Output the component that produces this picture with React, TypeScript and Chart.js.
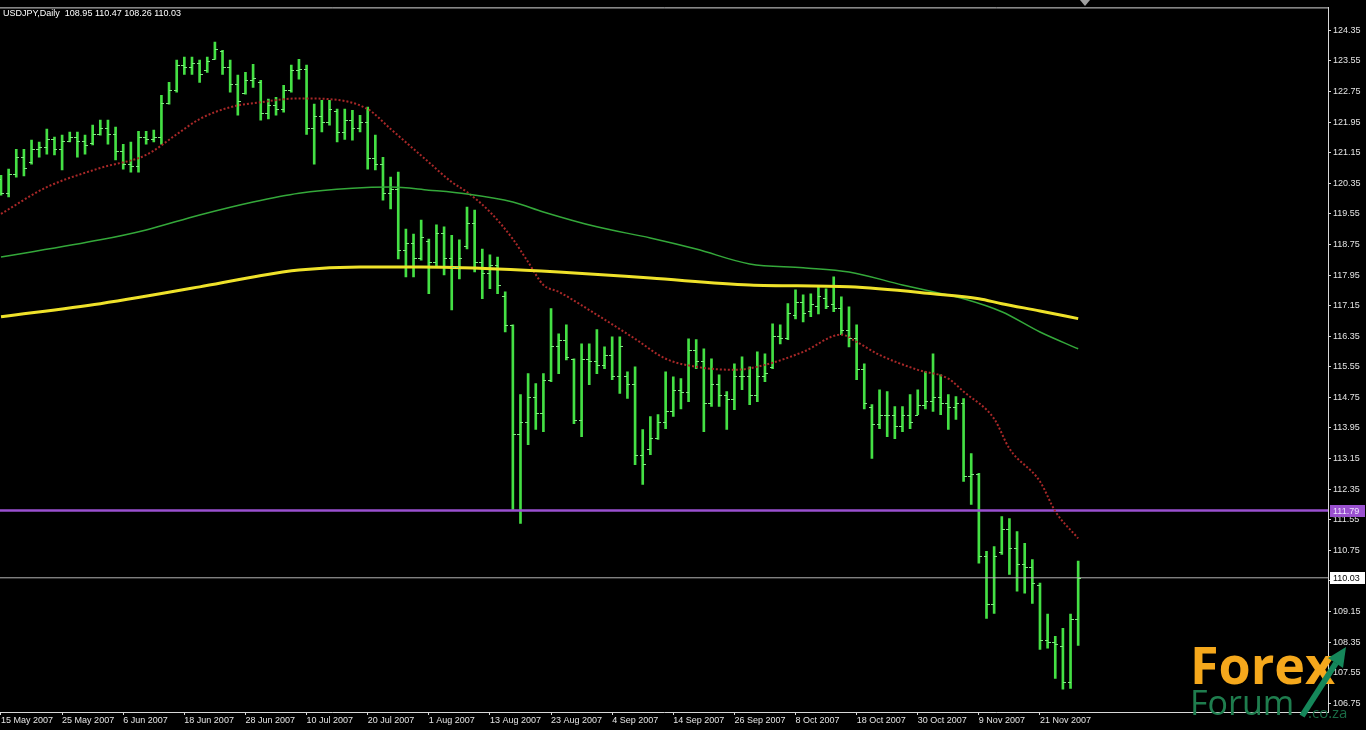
import React, { useEffect, useRef } from "react";
import { Chart, registerables } from "chart.js";

Chart.register(...registerables);

const titleText = "USDJPY,Daily  108.95 110.47 108.26 110.03";

const dateLabels = [
  "15 May 2007", "25 May 2007", "6 Jun 2007", "18 Jun 2007", "28 Jun 2007", "10 Jul 2007",
  "20 Jul 2007", "1 Aug 2007", "13 Aug 2007", "23 Aug 2007", "4 Sep 2007", "14 Sep 2007",
  "26 Sep 2007", "8 Oct 2007", "18 Oct 2007", "30 Oct 2007", "9 Nov 2007", "21 Nov 2007",
];
const barsPerLabel = 8;

const priceTicks = [
  124.35, 123.55, 122.75, 121.95, 121.15, 120.35, 119.55, 118.75, 117.95, 117.15, 116.35, 115.55,
  114.75, 113.95, 113.15, 112.35, 111.55, 110.75, 109.95, 109.15, 108.35, 107.55, 106.75,
];

const opens = [
  120.45, 120.10, 120.60, 121.05, 120.90, 121.25, 121.30, 121.50, 121.25, 121.45,
  121.55, 121.45, 121.40, 121.65, 121.80, 121.65, 121.20, 120.85, 120.80, 121.55,
  121.50, 121.55, 122.45, 122.80, 123.45, 123.40, 123.50, 123.30, 123.60, 123.80,
  123.40, 122.95, 122.70, 123.05, 123.00, 122.20, 122.40, 122.30, 122.80, 123.30,
  123.35, 121.80, 122.10, 121.95, 122.25, 121.70, 122.00, 121.80, 121.95, 121.00,
  120.85, 120.10, 120.20, 118.60, 118.80, 118.40, 118.85, 118.30, 119.05, 118.40,
  118.15, 118.70, 119.30, 118.30, 118.00, 118.20, 117.40, 116.65, 113.80, 114.10,
  114.75, 114.35, 115.20, 116.10, 116.25, 115.75, 114.15, 115.75, 115.70, 115.60,
  115.85, 115.30, 115.30, 115.10, 113.25, 113.40, 113.70, 114.10, 114.40, 114.95,
  114.90, 116.00, 115.70, 114.60, 115.10, 114.80, 114.70, 115.30, 115.30, 114.80,
  115.30, 115.55, 116.35, 116.30, 116.90, 117.25, 117.00, 117.15, 117.35, 117.20,
  117.10, 116.50, 116.30, 115.50, 114.50, 114.05, 114.30, 114.30, 114.00, 114.30,
  114.30, 114.55, 114.65, 114.75, 114.60, 114.50, 114.60, 112.70, 112.75, 110.60,
  109.35, 110.70, 111.30, 110.80, 110.40, 110.30, 109.85, 108.40, 108.35, 108.25,
  107.30, 108.95,
];
const highs = [
  120.56, 120.72, 121.24, 121.24, 121.48, 121.43, 121.77, 121.56, 121.61, 121.69,
  121.69, 121.61, 121.87, 122.00, 122.00, 121.82, 121.37, 121.43, 121.71, 121.71,
  121.74, 122.65, 122.99, 123.57, 123.65, 123.65, 123.57, 123.65, 124.04, 123.83,
  123.57, 123.18, 123.25, 123.46, 123.04, 122.55, 122.60, 122.91, 123.44, 123.59,
  123.44, 122.42, 122.52, 122.52, 122.29, 122.29, 122.26, 122.13, 122.34, 121.61,
  121.03, 120.51, 120.64, 119.15, 119.02, 119.39, 118.89, 119.26, 119.21, 118.99,
  118.87, 119.73, 119.65, 118.63, 118.48, 118.42, 117.51, 116.65, 114.82, 115.37,
  115.11, 115.37, 117.07, 116.41, 116.65, 115.76, 116.15, 116.15, 116.52, 116.07,
  116.33, 116.33, 115.42, 115.55, 113.91, 114.25, 114.30, 115.42, 115.29, 115.24,
  116.28, 116.26, 116.02, 115.76, 115.34, 114.90, 115.63, 115.81, 115.55, 115.94,
  115.89, 116.67, 116.65, 117.20, 117.56, 117.43, 117.46, 117.64, 117.59, 117.90,
  117.38, 117.12, 116.65, 115.63, 114.56, 114.95, 114.90, 114.51, 114.51, 114.82,
  114.95, 115.42, 115.89, 115.34, 114.82, 114.77, 114.72, 113.28, 112.76, 110.72,
  110.85, 111.63, 111.58, 111.24, 110.93, 110.51, 109.89, 109.08, 108.50, 108.71,
  109.08, 110.47,
];
const lows = [
  120.04, 119.99, 120.51, 120.54, 120.85, 121.03, 121.11, 121.09, 120.70, 121.43,
  121.03, 121.11, 121.35, 121.61, 121.37, 120.96, 120.72, 120.64, 120.64, 121.37,
  121.43, 121.37, 122.42, 122.73, 123.20, 123.20, 122.99, 123.25, 123.59, 123.20,
  122.73, 122.13, 122.68, 122.86, 122.00, 122.03, 122.13, 122.21, 122.73, 123.07,
  121.63, 120.85, 121.69, 121.87, 121.43, 121.50, 121.48, 121.69, 120.72, 120.70,
  119.91, 119.68, 118.37, 117.90, 117.90, 118.34, 117.46, 118.16, 117.95, 117.04,
  117.85, 118.63, 118.03, 117.33, 117.59, 117.46, 116.46, 111.82, 111.45, 113.51,
  113.91, 113.85, 115.16, 115.37, 115.73, 114.06, 113.72, 115.08, 115.37, 115.50,
  115.21, 114.85, 114.72, 112.99, 112.47, 113.25, 113.65, 113.93, 114.25, 114.45,
  114.64, 115.50, 113.85, 114.51, 114.51, 113.91, 114.43, 114.95, 114.56, 114.64,
  115.16, 115.50, 116.15, 116.26, 116.80, 116.72, 116.86, 116.93, 117.07, 116.99,
  116.39, 116.07, 115.21, 114.45, 113.15, 113.93, 113.72, 113.67, 113.85, 113.93,
  114.30, 114.45, 114.38, 114.30, 113.91, 114.17, 112.55, 111.95, 110.41, 108.97,
  109.10, 110.64, 110.12, 109.68, 109.63, 109.36, 108.16, 108.19, 107.40, 107.12,
  107.14, 108.26,
];
const closes = [
  120.10, 120.60, 121.05, 120.75, 121.25, 121.30, 121.50, 121.25, 121.45, 121.55,
  121.45, 121.35, 121.65, 121.80, 121.65, 121.20, 120.85, 120.80, 121.55, 121.50,
  121.55, 122.45, 122.80, 123.45, 123.40, 123.50, 123.20, 123.55, 123.85, 123.40,
  122.95, 122.50, 123.05, 123.10, 122.20, 122.40, 122.30, 122.80, 123.30, 123.35,
  121.80, 122.10, 121.95, 122.30, 121.70, 122.00, 121.80, 121.95, 121.00, 120.85,
  120.10, 120.20, 118.60, 118.80, 118.40, 118.95, 118.30, 119.05, 118.40, 118.15,
  118.40, 119.30, 118.30, 118.00, 118.20, 117.70, 116.65, 113.80, 114.10, 114.75,
  114.35, 115.20, 116.10, 116.25, 115.80, 114.15, 115.75, 115.70, 115.60, 115.85,
  115.30, 116.10, 115.10, 113.25, 113.00, 113.70, 114.10, 114.40, 114.95, 114.90,
  116.00, 115.70, 114.60, 115.10, 114.80, 114.70, 115.30, 115.30, 114.80, 115.30,
  115.40, 116.35, 116.30, 116.95, 117.25, 116.95, 117.20, 117.40, 117.15, 117.10,
  116.50, 116.30, 115.50, 114.60, 114.05, 114.30, 114.30, 114.00, 114.30, 114.10,
  114.55, 114.65, 114.75, 114.60, 114.50, 114.60, 112.70, 112.75, 110.60, 109.35,
  110.60, 111.30, 110.80, 110.40, 110.30, 109.90, 108.40, 108.35, 108.30, 107.30,
  108.95, 110.03,
];

// Moving averages (bar index, value)
const maFastIdx = [0, 6, 13, 19, 23, 26, 30, 34, 39, 43, 48, 51, 56, 59, 61, 64, 67, 69, 71, 73, 78, 83, 87, 91, 96, 100, 105, 110, 112, 115, 120, 124, 126, 130, 132, 136, 138, 141];
const maFastVal = [119.55, 120.25, 120.75, 121.09, 121.63, 122.03, 122.34, 122.47, 122.57, 122.55, 122.29, 121.77, 120.90, 120.38, 120.12, 119.60, 118.89, 118.29, 117.69, 117.51, 116.91, 116.28, 115.76, 115.55, 115.47, 115.60, 115.94, 116.39, 116.20, 115.86, 115.47, 115.24, 114.90, 114.19, 113.41, 112.55, 111.77, 111.06];
const maMidIdx = [0, 13, 19, 26, 33, 39, 46, 51, 56, 61, 67, 71, 78, 85, 91, 98, 105, 111, 118, 122, 126, 131, 136, 141];
const maMidVal = [118.42, 118.87, 119.13, 119.52, 119.86, 120.09, 120.22, 120.25, 120.17, 120.07, 119.86, 119.60, 119.21, 118.92, 118.63, 118.24, 118.14, 118.03, 117.69, 117.51, 117.33, 116.99, 116.46, 116.02];
const maSlowIdx = [0, 13, 26, 33, 39, 47, 55, 65, 73, 85, 98, 111, 122, 128, 131, 136, 141];
const maSlowVal = [116.86, 117.20, 117.64, 117.90, 118.08, 118.16, 118.16, 118.11, 118.03, 117.87, 117.69, 117.64, 117.46, 117.33, 117.20, 117.01, 116.81];

const levelLine = 111.79;
const lastPrice = 110.03;

const X_MIN = -0.13;
const X_MAX = 173.7;
const Y_MIN = 106.52;
const Y_MAX = 124.95;

const BAR_COLOR = "#44e044";
const FONT = '"Liberation Sans", Arial, sans-serif';

const ohlcTicksPlugin = {
  id: "ohlcTicks",
  afterDatasetsDraw(chart: any) {
    const { ctx, chartArea, scales } = chart;
    const x = scales.x;
    const y = scales.y;
    ctx.save();
    ctx.beginPath();
    ctx.rect(chartArea.left, chartArea.top, chartArea.right - chartArea.left, chartArea.bottom - chartArea.top);
    ctx.clip();
    ctx.strokeStyle = "#7ee87e";
    ctx.lineWidth = 1;
    for (let i = 0; i < opens.length; i++) {
      const px = Math.round(x.getPixelForValue(i));
      const yo = Math.round(y.getPixelForValue(opens[i])) + 0.5;
      const yc = Math.round(y.getPixelForValue(closes[i])) + 0.5;
      ctx.beginPath();
      ctx.moveTo(px - 3, yo);
      ctx.lineTo(px, yo);
      ctx.moveTo(px, yc);
      ctx.lineTo(px + 3, yc);
      ctx.stroke();
    }
    ctx.restore();
  },
};

const decorPlugin = {
  id: "decor",
  beforeDraw(chart: any) {
    const { ctx, width, height } = chart;
    ctx.save();
    ctx.fillStyle = "#000";
    ctx.fillRect(0, 0, width, height);
    ctx.restore();
  },
  afterDraw(chart: any) {
    const { ctx, chartArea, scales } = chart;
    const y = scales.y;
    ctx.save();
    // top frame line
    ctx.strokeStyle = "#d8d8d8";
    ctx.lineWidth = 1;
    ctx.beginPath();
    ctx.moveTo(0, chartArea.top + 0.5);
    ctx.lineTo(chartArea.right + 0.5, chartArea.top + 0.5);
    ctx.stroke();
    // chart shift marker
    ctx.fillStyle = "#a0a0a0";
    ctx.beginPath();
    ctx.moveTo(1080, 0);
    ctx.lineTo(1090, 0);
    ctx.lineTo(1085, 6);
    ctx.closePath();
    ctx.fill();
    // title
    ctx.font = `9px ${FONT}`;
    ctx.textBaseline = "middle";
    ctx.textAlign = "left";
    ctx.fillStyle = "#ffffff";
    ctx.fillText(titleText, 3, 14);
    // price boxes
    const box = (v: number, bg: string, fg: string, border: string) => {
      const py = Math.round(y.getPixelForValue(v));
      ctx.fillStyle = bg;
      ctx.fillRect(chartArea.right + 2, py - 6, 35, 12);
      ctx.strokeStyle = border;
      ctx.strokeRect(chartArea.right + 2.5, py - 5.5, 34, 11);
      ctx.fillStyle = fg;
      ctx.fillText(v.toFixed(2), chartArea.right + 5, py + 0.5);
    };
    box(levelLine, "#9a50d0", "#efe4ff", "#9a50d0");
    box(lastPrice, "#ffffff", "#000000", "#ffffff");
    // watermark logo
    ctx.textBaseline = "alphabetic";
    ctx.fillStyle = "#f5a81c";
    ctx.font = `700 52px "Open Sans", ${FONT}`;
    ctx.fillText("Forex", 1190, 684);
    ctx.fillStyle = "#1f7d4e";
    ctx.font = `400 34px "Open Sans", ${FONT}`;
    ctx.fillText("Forum", 1190, 715);
    ctx.fillStyle = "#1a6b45";
    ctx.font = `400 15px "Open Sans", ${FONT}`;
    ctx.fillText(".co.za", 1308, 718);
    // arrow
    ctx.strokeStyle = "#15875a";
    ctx.fillStyle = "#15875a";
    ctx.lineWidth = 6;
    ctx.beginPath();
    ctx.moveTo(1302, 716);
    ctx.lineTo(1336, 663);
    ctx.stroke();
    ctx.beginPath();
    ctx.moveTo(1346, 647);
    ctx.lineTo(1328, 658);
    ctx.lineTo(1343, 668);
    ctx.closePath();
    ctx.fill();
    ctx.restore();
  },
};

function pts(idx: number[], vals: number[]) {
  return idx.map((x, i) => ({ x, y: vals[i] }));
}

export default function App() {
  const ref = useRef<HTMLCanvasElement>(null);
  useEffect(() => {
    const canvas = ref.current;
    if (!canvas) return;
    const chart = new Chart(canvas, {
      type: "bar",
      data: {
        datasets: [
          {
            type: "line",
            label: "Level",
            data: [{ x: X_MIN, y: levelLine }, { x: X_MAX, y: levelLine }],
            borderColor: "#9a50d0",
            borderWidth: 2.5,
            pointRadius: 0,
            order: 1,
          } as any,
          {
            type: "line",
            label: "Last",
            data: [{ x: X_MIN, y: lastPrice }, { x: X_MAX, y: lastPrice }],
            borderColor: "#b4b4b4",
            borderWidth: 1,
            pointRadius: 0,
            order: 1,
          } as any,
          {
            type: "line",
            label: "MA slow",
            data: pts(maSlowIdx, maSlowVal),
            borderColor: "#efe22a",
            borderWidth: 3,
            pointRadius: 0,
            cubicInterpolationMode: "monotone",
            order: 0,
          } as any,
          {
            type: "line",
            label: "MA mid",
            data: pts(maMidIdx, maMidVal),
            borderColor: "#34a83a",
            borderWidth: 1.5,
            pointRadius: 0,
            cubicInterpolationMode: "monotone",
            order: 0,
          } as any,
          {
            type: "line",
            label: "MA fast",
            data: pts(maFastIdx, maFastVal),
            borderColor: "#a82828",
            borderWidth: 2,
            borderDash: [2, 2],
            pointRadius: 0,
            cubicInterpolationMode: "monotone",
            order: 0,
          } as any,
          {
            type: "bar",
            label: "USDJPY",
            data: highs.map((h, i) => ({ x: i, y: [lows[i], h] })),
            backgroundColor: BAR_COLOR,
            borderWidth: 0,
            barThickness: 2,
            grouped: false,
            order: 3,
          } as any,
        ],
      },
      options: {
        responsive: false,
        maintainAspectRatio: false,
        devicePixelRatio: 1,
        animation: false,
        events: [],
        layout: { padding: { top: 5, left: 0, right: 0, bottom: 0 } },
        plugins: { legend: { display: false }, tooltip: { enabled: false } },
        scales: {
          x: {
            type: "linear",
            min: X_MIN,
            max: X_MAX,
            offset: false,
            afterFit: (s: any) => { s.height = 18; },
            afterBuildTicks: (s: any) => {
              s.ticks = dateLabels.map((_, k) => ({ value: k * barsPerLabel }));
            },
            grid: {
              display: true,
              drawOnChartArea: false,
              drawTicks: true,
              tickLength: 3,
              color: "#d8d8d8",
              offset: false,
            },
            border: { display: true, color: "#d8d8d8", width: 1 },
            ticks: {
              autoSkip: false,
              maxRotation: 0,
              align: "start",
              padding: 0,
              color: "#e4e4e4",
              font: { family: FONT, size: 9 },
              callback: (v: any) => dateLabels[Math.round(Number(v) / barsPerLabel)] ?? "",
            },
          },
          y: {
            type: "linear",
            position: "right",
            min: Y_MIN,
            max: Y_MAX,
            afterFit: (s: any) => { s.width = 38; },
            afterBuildTicks: (s: any) => {
              s.ticks = priceTicks.map((v) => ({ value: v }));
            },
            grid: {
              display: true,
              drawOnChartArea: false,
              drawTicks: true,
              tickLength: 3,
              color: "#d8d8d8",
            },
            border: { display: true, color: "#d8d8d8", width: 1 },
            ticks: {
              autoSkip: false,
              padding: 2,
              color: "#e4e4e4",
              font: { family: FONT, size: 9 },
              callback: (v: any) => Number(v).toFixed(2),
            },
          },
        },
      },
      plugins: [decorPlugin, ohlcTicksPlugin],
    } as any);
    return () => chart.destroy();
  }, []);
  return (
    <div style={{ position: "fixed", left: 0, top: 0, width: 1366, height: 730, background: "#000" }}>
      <canvas ref={ref} width={1366} height={730} style={{ display: "block", width: 1366, height: 730 }} />
    </div>
  );
}
